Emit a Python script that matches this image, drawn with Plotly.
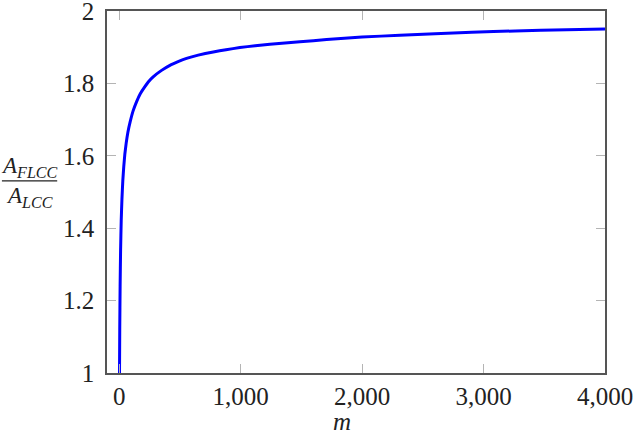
import plotly.graph_objects as go

# values
m_vals = [3, 5, 8, 12, 17, 23, 30, 38, 47, 58, 72, 90, 115, 143, 175, 212,
          245, 280, 349, 418, 485, 555, 651, 775, 880, 994, 1120, 1241, 1488,
          1708, 2000, 2312, 2600, 2903, 3260, 3685, 4000]
ratio_vals = [1.0, 1.12, 1.24, 1.34, 1.42, 1.48, 1.53, 1.57, 1.605, 1.635,
              1.665, 1.693, 1.724, 1.749, 1.772, 1.791, 1.806, 1.818, 1.836,
              1.850, 1.860, 1.869, 1.878, 1.887, 1.893, 1.899, 1.904, 1.908,
              1.915, 1.921, 1.928, 1.933, 1.937, 1.941, 1.945, 1.948, 1.950]

x_ticks = [0, 1000, 2000, 3000, 4000]
x_tick_text = ["0", "1,000", "2,000", "3,000", "4,000"]
y_ticks = [1, 1.2, 1.4, 1.6, 1.8, 2]

FONT = "Liberation Serif, DejaVu Serif, serif"

fig = go.Figure()
fig.add_trace(go.Scatter(x=m_vals, y=ratio_vals, mode="lines",
                         line=dict(color="#0000ff", width=3, shape="spline", smoothing=0.4),
                         showlegend=False, hoverinfo="skip"))

axis_common = dict(showgrid=False, zeroline=False, showline=True, automargin=False,
                   linecolor="#555555", linewidth=1.5, mirror="ticks",
                   ticks="inside", ticklen=9, tickcolor="#b4b4b4", tickwidth=1.2,
                   ticklabeloverflow="allow",
                   tickfont=dict(family=FONT, size=25, color="#222222"))

fig.update_layout(
    width=636, height=434,
    margin=dict(l=107, r=31, t=11, b=61, autoexpand=False),
    plot_bgcolor="white", paper_bgcolor="white",
    xaxis=dict(range=[-100, 4000], tickvals=x_ticks, ticktext=x_tick_text,
               ticklabelstandoff=0, **axis_common),
    yaxis=dict(range=[1, 2], tickvals=y_ticks, ticklabelstandoff=6,
               **axis_common),
)

# x label
fig.add_annotation(text="<i>m</i>", xref="paper", yref="paper", x=0.472, y=-0.135,
                   xanchor="center", yanchor="middle", showarrow=False,
                   font=dict(family=FONT, size=25, color="#222222"))

# y label as a stacked fraction
fig.add_annotation(text="<i>A</i><sub><i>FLCC</i></sub>", xref="paper", yref="paper",
                   x=-0.155, y=0.568, xanchor="center", yanchor="middle", showarrow=False,
                   font=dict(family=FONT, size=23, color="#222222"))
fig.add_annotation(text="<i>A</i><sub><i>LCC</i></sub>", xref="paper", yref="paper",
                   x=-0.155, y=0.487, xanchor="center", yanchor="middle", showarrow=False,
                   font=dict(family=FONT, size=23, color="#222222"))
fig.add_shape(type="line", xref="paper", yref="paper", x0=-0.211, x1=-0.10,
              y0=0.531, y1=0.531, line=dict(color="#222222", width=1.3))

fig.write_html("out.html", config={"displayModeBar": False},
               post_script="document.body.style.margin='0';")
